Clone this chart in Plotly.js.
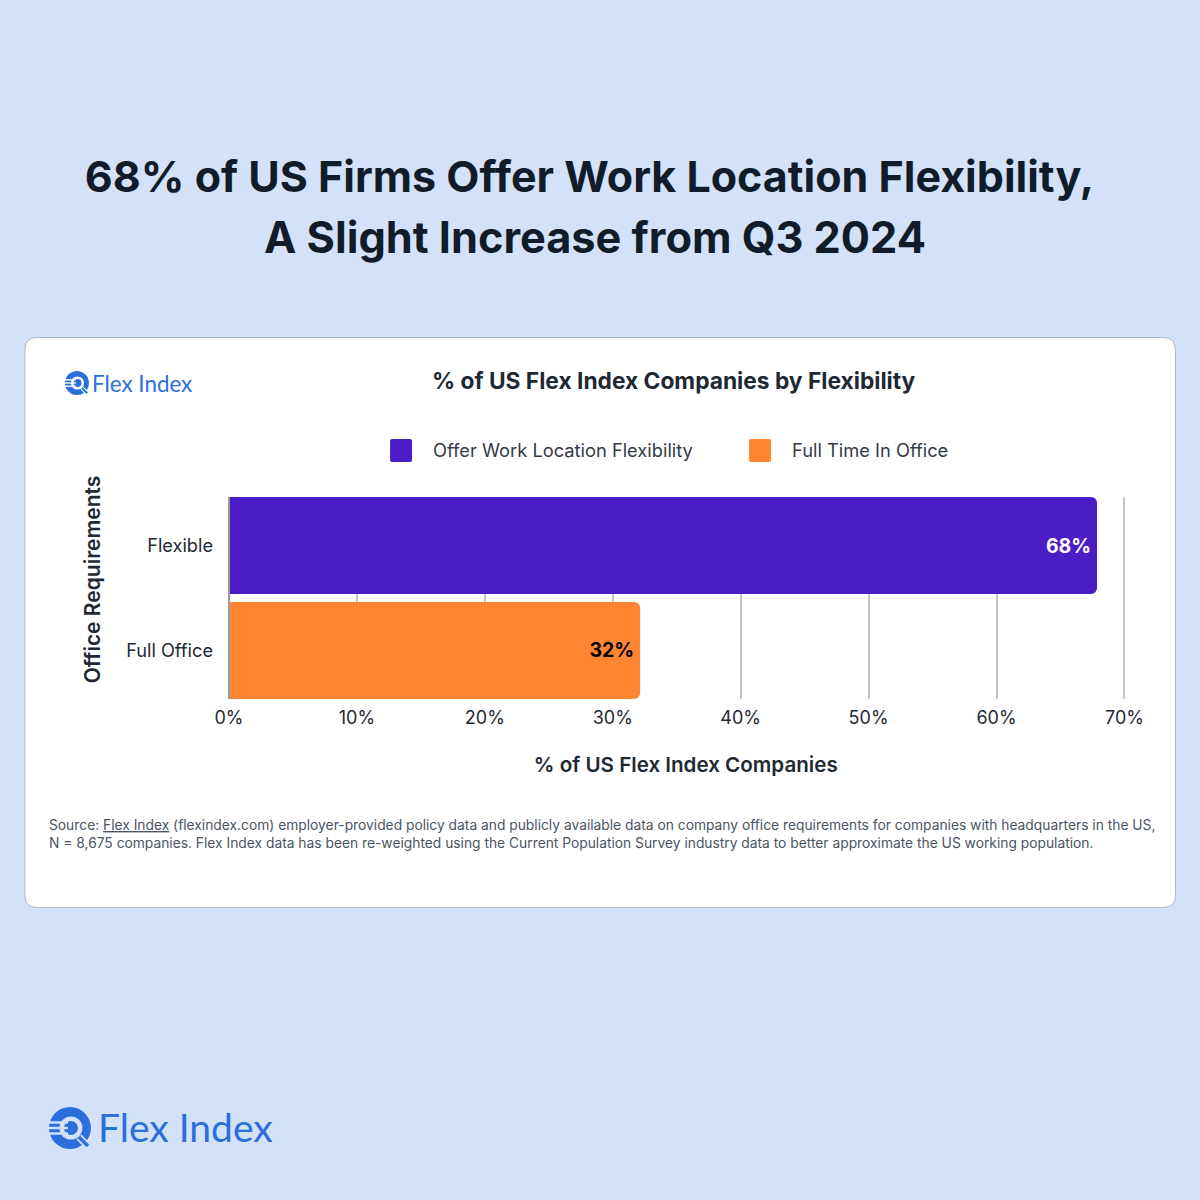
<!DOCTYPE html>
<html><head><meta charset="utf-8">
<script src="https://cdn.plot.ly/plotly-3.0.1.min.js"></script>
<style>html,body{margin:0;padding:0;background:#d3e2f8}</style></head>
<body><div id="chart" style="width:1200px;height:1200px"></div>
<script>
const categories = ['Flexible', 'Full Office'];
const seriesNames = ['Offer Work Location Flexibility', 'Full Time In Office'];
const flexibleValues = [67.86];
const fullOfficeValues = [32.14];
const flexibleLabels = ['68%'];
const fullOfficeLabels = ['32%'];
const xTickSuffix = '%';

const BG = '#d3e2f8', BLUE = '#2a6fdc', INK = '#111c2b', FONT = 'Inter, sans-serif';
const L = 229, R = 73.4, T = 497, B = 501, W = 1200, H = 1200;
const px = x => (x - L) / (W - L - R);
const py = y => (H - B - y) / (H - T - B);
const circ = (cx, cy, r, fill) => ({type:'circle', layer:'below', xref:'paper', yref:'paper',
  x0:px(cx-r), x1:px(cx+r), y0:py(cy-r), y1:py(cy+r), fillcolor:fill, line:{width:0}});
const seg = (x0,y0,x1,y1,w,c) => ({type:'line', layer:'below', xref:'paper', yref:'paper',
  x0:px(x0), x1:px(x1), y0:py(y0), y1:py(y1), line:{color:c, width:w}});

function logo(cx, cy, s, bg) {
  const k = s / 21;
  return [
    circ(cx, cy, s, BLUE),
    circ(cx + 1*k, cy, 11.5*k, bg),
    circ(cx + 1*k, cy, 7*k, BLUE),
    seg(cx - 22*k, cy - 5.5*k, cx - 2*k, cy - 5.5*k, 2.4*k, bg),
    seg(cx - 22*k, cy, cx - 2*k, cy, 2.4*k, bg),
    seg(cx - 22*k, cy + 5.5*k, cx - 2*k, cy + 5.5*k, 2.4*k, bg),
    seg(cx + 9*k, cy + 9*k, cx + 21*k, cy + 21*k, 7*k, bg),
    seg(cx + 9*k, cy + 9*k, cx + 18*k, cy + 18*k, 3.5*k, BLUE)
  ];
}

const r = 12, cx0 = 25, cx1 = 1175, cy0 = 337.5, cy1 = 907.5;
const cardPath = `M${px(cx0+r)},${py(cy0)} L${px(cx1-r)},${py(cy0)} Q${px(cx1)},${py(cy0)} ${px(cx1)},${py(cy0+r)} ` +
  `L${px(cx1)},${py(cy1-r)} Q${px(cx1)},${py(cy1)} ${px(cx1-r)},${py(cy1)} L${px(cx0+r)},${py(cy1)} ` +
  `Q${px(cx0)},${py(cy1)} ${px(cx0)},${py(cy1-r)} L${px(cx0)},${py(cy0+r)} Q${px(cx0)},${py(cy0)} ${px(cx0+r)},${py(cy0)} Z`;
const card = {type:'path', layer:'below', xref:'paper', yref:'paper', path:cardPath,
  fillcolor:'#ffffff', line:{color:'#aeb6c2', width:1}};

const note = (text, x, y, size, color, weight, anchor, family) => ({
  text, xref:'paper', yref:'paper', x:px(x), y:py(y), xanchor:anchor||'left', yanchor:'middle',
  showarrow:false, align:anchor||'left', font:{family:family||FONT, size, color, weight:weight||400}
});

const labelFont = (color) => ({family:FONT, size:19.5, color, weight:700});
const traces = [
  {type:'bar', orientation:'h', name:seriesNames[0], y:[categories[0]], x:flexibleValues, width:0.924,
   marker:{color:'#4b1dc6'}, text:flexibleLabels, textposition:'inside', insidetextanchor:'end', textangle:0,
   insidetextfont:labelFont('#ffffff'), cliponaxis:false},
  {type:'bar', orientation:'h', name:seriesNames[1], y:[categories[1]], x:fullOfficeValues, width:0.924,
   marker:{color:'#ff8533'}, text:fullOfficeLabels, textposition:'inside', insidetextanchor:'end', textangle:0,
   insidetextfont:labelFont('#000000'), cliponaxis:false}
];

const nb = n => '&nbsp;'.repeat(n);
const layout = {
  width:W, height:H, paper_bgcolor:BG, plot_bgcolor:'rgba(0,0,0,0)',
  margin:{l:L, r:R, t:T, b:B, pad:0}, barmode:'overlay', barcornerradius:6,
  font:{family:FONT, color:'#1f2933', size:18},
  title:{text:'68% of US Firms Offer Work Location Flexibility,',
    x:589.5/W, xanchor:'center', xref:'container', y:1-177/H, yref:'container', yanchor:'middle',
    font:{family:FONT, size:43, color:INK, weight:700}},
  xaxis:{range:[0,70.2], dtick:10, tick0:0, ticksuffix:xTickSuffix, showgrid:true, gridcolor:'#c4c4c4', gridwidth:2,
    zeroline:true, zerolinelayer:'above traces', zerolinecolor:'#9a9a9a', zerolinewidth:2, ticks:'', showline:false, automargin:false,
    ticklabelstandoff:6, tickfont:{family:FONT, size:18, color:'#1f2933'},
    title:{text:nb(3)+'% of US Flex Index Companies', standoff:30, font:{family:FONT, size:20.6, color:'#1f2933', weight:600}}},
  yaxis:{type:'category', categoryorder:'array', categoryarray:categories, range:[1.462,-0.462], showgrid:false,
    zeroline:false, showline:false, ticks:'', ticklabelstandoff:15, automargin:false,
    tickfont:{family:FONT, size:18.2, color:'#1f2933'},
    title:{text:nb(7)+'Office Requirements', standoff:19, font:{family:FONT, size:21, color:'#1f2933', weight:600}}},
  showlegend:true,
  legend:{orientation:'h', x:px(369), xanchor:'left', y:py(450), yanchor:'middle', traceorder:'normal',
    font:{family:FONT, size:18.3, color:'#333b47'}, bgcolor:'rgba(0,0,0,0)', itemwidth:54,
    entrywidth:290, entrywidthmode:'pixels', itemclick:false, itemdoubleclick:false},
  shapes:[card, ...logo(70,1128,21,BG), ...logo(77,383,12,'#ffffff')],
  annotations:[
    note('A Slight Increase from Q3 2024', 595, 237, 43.3, INK, 700, 'center'),
    note('% of US Flex Index Companies by Flexibility', 674, 380, 22.75, '#1f2933', 700, 'center'),
    note('Flex Index', 96, 1127, 39, BLUE, 400, 'left', 'Lato, sans-serif'),
    note('Flex Index', 90, 383, 22.4, BLUE, 400, 'left', 'Lato, sans-serif'),
    note('Source: <span style="text-decoration:underline">Flex Index</span> (flexindex.com) employer-provided policy data and publicly available data on company office requirements for companies with headquarters in the US,', 47, 825, 13.8, '#4b5563', 400),
    note('N = 8,675 companies. Flex Index data has been re-weighted using the Current Population Survey industry data to better approximate the US working population.', 47, 843, 13.8, '#4b5563', 400)
  ]
};

Plotly.newPlot('chart', traces, layout, {displayModeBar:false, staticPlot:true}).then(gd => {
  gd.querySelectorAll('.legend .legendbar path, .legend .legendpoints path').forEach(p => {
    p.setAttribute('d', 'M9,-11A2,2 0 0 1 11,-9V10A2,2 0 0 1 9,12H-9A2,2 0 0 1 -11,10V-9A2,2 0 0 1 -9,-11Z');
  });
});
</script></body></html>
